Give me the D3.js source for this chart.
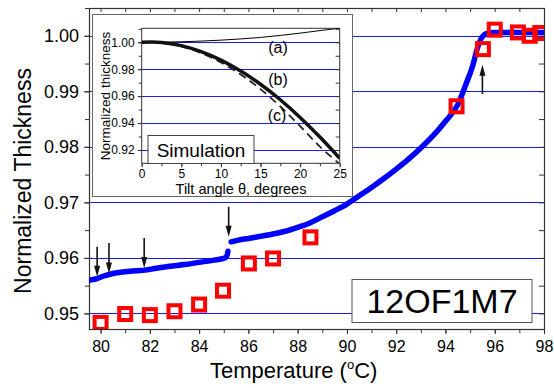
<!DOCTYPE html>
<html>
<head>
<meta charset="utf-8">
<script src="https://cdn.jsdelivr.net/npm/d3@7"></script>
<style>
  body { margin: 0; background: #fff; }
  svg text { font-family: "Liberation Sans", Arial, sans-serif; fill: #000; }
</style>
</head>
<body>
<div id="canvas"></div>
<script>
// measured thickness (blue), below and above the jump at ~85.2 C
const curveLow = [
  [79.55, 0.9560], [79.8, 0.9562], [80.1, 0.9567], [80.5, 0.9572], [81.0, 0.9575],
  [81.5, 0.9577], [81.8, 0.9578], [82.2, 0.9581], [82.8, 0.9585], [83.4, 0.9588],
  [84.0, 0.9592], [84.6, 0.9596], [85.0, 0.9599], [85.12, 0.9603], [85.17, 0.9612]
];
const curveHigh = [
  [85.3, 0.9629], [85.6, 0.9632], [86.0, 0.9635], [86.5, 0.9639], [87.0, 0.9643],
  [87.5, 0.9648], [88.0, 0.9655], [88.5, 0.9663], [89.0, 0.9674], [89.5, 0.9685],
  [90.0, 0.9697], [90.5, 0.9712], [91.0, 0.9727], [91.5, 0.9743], [92.0, 0.9760],
  [92.5, 0.9778], [93.0, 0.9798], [93.5, 0.9820], [94.0, 0.9846], [94.5, 0.9876],
  [94.85, 0.9915], [95.1, 0.9945], [95.3, 0.9978], [95.45, 0.9995], [95.66, 1.0004],
  [96.0, 1.0006], [97.0, 1.0006], [98.0, 1.0006]
];
// red squares
const squareT = [80.0, 81.0, 82.0, 83.0, 84.0, 84.97, 86.02, 87.0, 88.52, 94.45, 95.52, 96.0, 96.94, 97.42, 97.85];
const squareV = [0.9483, 0.9499, 0.9497, 0.9504, 0.9516, 0.9541, 0.9590, 0.9599, 0.9637, 0.9873, 0.9976, 1.0011, 1.0006, 1.0000, 1.0005];
// arrows: [temperature, from, to]
const arrows = [
  [79.86, 0.9620, 0.9566],
  [80.34, 0.9627, 0.9572],
  [81.77, 0.9636, 0.9582],
  [85.2, 0.9692, 0.9638],
  [95.5, 0.9895, 0.9948]
];
const xTicks = [80, 82, 84, 86, 88, 90, 92, 94, 96, 98];
const yTicks = [0.95, 0.96, 0.97, 0.98, 0.99, 1.00];

// inset simulation
const theta = [0, 2.5, 5, 7.5, 10, 12.5, 15, 17.5, 20, 22.5, 25];
const simA = [1.0000, 1.0001, 1.0004, 1.0009, 1.0016, 1.0025, 1.0036, 1.0051, 1.0068, 1.0087, 1.0104];
const simB = [1.0000, 0.9999, 0.9975, 0.9930, 0.9868, 0.9786, 0.9688, 0.9573, 0.9442, 0.9296, 0.9138];
const simC = [1.0000, 0.9998, 0.9970, 0.9920, 0.9850, 0.9760, 0.9652, 0.9523, 0.9377, 0.9225, 0.9095];
const insetXTicks = [0, 5, 10, 15, 20, 25];
const insetYTicks = [0.92, 0.94, 0.96, 0.98, 1.00];

const W = 554, H = 388;
const axisColor = "#333";
const svg = d3.select("#canvas").append("svg").attr("width", W).attr("height", H);

const plot = { left: 89, right: 544, top: 8, bottom: 329 };
const x = d3.scaleLinear().domain([79.53, 98]).range([plot.left, plot.right]);
const y = d3.scaleLinear().domain([0.9472, 1.0050]).range([plot.bottom, plot.top]);

svg.append("defs").append("clipPath").attr("id", "mainClip")
  .append("rect").attr("x", plot.left).attr("y", plot.top)
  .attr("width", plot.right - plot.left).attr("height", plot.bottom - plot.top);

// gridlines
svg.append("g").selectAll("line").data(yTicks).enter().append("line")
  .attr("x1", plot.left).attr("x2", plot.right)
  .attr("y1", d => Math.round(y(d)) + 0.5).attr("y2", d => Math.round(y(d)) + 0.5)
  .attr("stroke", "#1a1aff").attr("stroke-width", 1);

function styleAxis(g) {
  g.select(".domain").remove();
  g.selectAll("line").attr("stroke", axisColor);
}

// main axes
const minorX = d3.range(80, 98.01, 1);
const minorY = d3.range(0.95, 1.0051, 0.005);
svg.append("g").attr("transform", `translate(0,${plot.bottom})`)
  .call(d3.axisBottom(x).tickValues(minorX).tickSize(4).tickFormat(""))
  .call(styleAxis);
svg.append("g").attr("transform", `translate(0,${plot.bottom})`)
  .call(d3.axisBottom(x).tickValues(xTicks).tickSize(5).tickPadding(7).tickFormat(d3.format("d")))
  .call(styleAxis)
  .selectAll("text").attr("font-size", 16);
svg.append("g").attr("transform", `translate(0,${plot.top})`)
  .call(d3.axisBottom(x).tickValues(minorX).tickSize(4).tickFormat(""))
  .call(styleAxis);
svg.append("g").attr("transform", `translate(${plot.left},0)`)
  .call(d3.axisLeft(y).tickValues(minorY).tickSize(4).tickFormat(""))
  .call(styleAxis);
svg.append("g").attr("transform", `translate(${plot.left},0)`)
  .call(d3.axisLeft(y).tickValues(yTicks).tickSize(5).tickPadding(5).tickFormat(d3.format(".2f")))
  .call(styleAxis)
  .selectAll("text").attr("font-size", 18);
svg.append("g").attr("transform", `translate(${plot.right},0)`)
  .call(d3.axisLeft(y).tickValues(minorY).tickSize(5).tickFormat(""))
  .call(styleAxis);
svg.append("rect")
  .attr("x", plot.left + 0.5).attr("y", plot.top + 0.5)
  .attr("width", plot.right - plot.left).attr("height", plot.bottom - plot.top)
  .attr("fill", "none").attr("stroke", axisColor).attr("stroke-width", 1.2);

// axis titles
svg.append("text")
  .attr("transform", "translate(31,181) rotate(-90)")
  .attr("text-anchor", "middle").attr("font-size", 23)
  .text("Normalized Thickness");
const xt = svg.append("text").attr("x", 210).attr("y", 378).attr("font-size", 22);
xt.append("tspan").text("Temperature (");
xt.append("tspan").attr("font-size", 13).attr("dy", -9).text("o");
xt.append("tspan").attr("dy", 9).text("C)");

// ---------- inset ----------
svg.append("rect").attr("x", 92.5).attr("y", 14.5).attr("width", 260).attr("height", 182)
  .attr("fill", "#fff").attr("stroke", "#666").attr("stroke-width", 1);

const ip = { left: 141.7, right: 339.7, top: 28.3, bottom: 163.3 };
const ix = d3.scaleLinear().domain([0, 25]).range([ip.left, ip.right]);
const iy = d3.scaleLinear().domain([0.9101, 1.0104]).range([ip.bottom, ip.top]);

svg.select("defs").append("clipPath").attr("id", "insetClip")
  .append("rect").attr("x", ip.left).attr("y", ip.top)
  .attr("width", ip.right - ip.left).attr("height", ip.bottom - ip.top);

svg.append("g").selectAll("line").data(insetYTicks).enter().append("line")
  .attr("x1", ip.left).attr("x2", ip.right)
  .attr("y1", d => Math.round(iy(d)) + 0.5).attr("y2", d => Math.round(iy(d)) + 0.5)
  .attr("stroke", "#1a1aff").attr("stroke-width", 1);

const iMinorX = d3.range(0, 25.01, 2.5);
const iMinorY = d3.range(0.92, 1.0101, 0.01);
svg.append("g").attr("transform", `translate(0,${ip.bottom})`)
  .call(d3.axisBottom(ix).tickValues(iMinorX).tickSize(3).tickFormat(""))
  .call(styleAxis);
svg.append("g").attr("transform", `translate(0,${ip.bottom})`)
  .call(d3.axisBottom(ix).tickValues(insetXTicks).tickSize(4).tickPadding(2).tickFormat(d3.format("d")))
  .call(styleAxis)
  .selectAll("text").attr("font-size", 12);
svg.append("g").attr("transform", `translate(${ip.left},0)`)
  .call(d3.axisLeft(iy).tickValues(iMinorY).tickSize(3).tickFormat(""))
  .call(styleAxis);
svg.append("g").attr("transform", `translate(${ip.left},0)`)
  .call(d3.axisLeft(iy).tickValues(insetYTicks).tickSize(4).tickPadding(3).tickFormat(d3.format(".2f")))
  .call(styleAxis)
  .selectAll("text").attr("font-size", 12);
svg.append("g").attr("transform", `translate(${ip.right},0)`)
  .call(d3.axisLeft(iy).tickValues(iMinorY).tickSize(4).tickFormat(""))
  .call(styleAxis);
svg.append("rect")
  .attr("x", ip.left).attr("y", ip.top)
  .attr("width", ip.right - ip.left).attr("height", ip.bottom - ip.top)
  .attr("fill", "none").attr("stroke", axisColor).attr("stroke-width", 1);

const simLine = vals => d3.line()
  .x((d, i) => ix(theta[i])).y(d => iy(d))
  .curve(d3.curveCatmullRom)(vals);
const inset = svg.append("g").attr("clip-path", "url(#insetClip)");
inset.append("path").attr("d", simLine(simA))
  .attr("fill", "none").attr("stroke", "#000").attr("stroke-width", 1);
inset.append("path").attr("d", simLine(simC))
  .attr("fill", "none").attr("stroke", "#222").attr("stroke-width", 1.8)
  .attr("stroke-dasharray", "8,5");
inset.append("path").attr("d", simLine(simB))
  .attr("fill", "none").attr("stroke", "#111").attr("stroke-width", 3.5);

svg.append("text").attr("x", 278).attr("y", 53).attr("text-anchor", "middle").attr("font-size", 16).text("(a)");
svg.append("text").attr("x", 278).attr("y", 85).attr("text-anchor", "middle").attr("font-size", 16).text("(b)");
svg.append("text").attr("x", 277).attr("y", 121).attr("text-anchor", "middle").attr("font-size", 16).text("(c)");

svg.append("rect").attr("x", 148).attr("y", 135.5).attr("width", 106).attr("height", 28)
  .attr("fill", "#fff").attr("stroke", "#444").attr("stroke-width", 1);
svg.append("text").attr("x", 201).attr("y", 157).attr("text-anchor", "middle").attr("font-size", 19).text("Simulation");

svg.append("text")
  .attr("transform", "translate(110,96) rotate(-90)")
  .attr("text-anchor", "middle").attr("font-size", 13.5)
  .text("Normalized thickness");
svg.append("text").attr("x", 241).attr("y", 194).attr("text-anchor", "middle").attr("font-size", 14.5)
  .text("Tilt angle \u03b8, degrees");

// ---------- data ----------
const data = svg.append("g").attr("clip-path", "url(#mainClip)");
const mainLine = d3.line().x(d => x(d[0])).y(d => y(d[1])).curve(d3.curveMonotoneX);
[curveLow, curveHigh].forEach(seg => {
  data.append("path").attr("d", mainLine(seg))
    .attr("fill", "none").attr("stroke", "#0000ff").attr("stroke-width", 5.5)
    .attr("stroke-linecap", "round");
});

data.selectAll("rect.sq").data(squareT).enter().append("rect").attr("class", "sq")
  .attr("x", d => x(d) - 6).attr("y", (d, i) => y(squareV[i]) - 6)
  .attr("width", 12).attr("height", 12)
  .attr("fill", "none").attr("stroke", "#ff0000").attr("stroke-width", 4);

// arrows
const ag = svg.append("g");
arrows.forEach(a => {
  const ax = x(a[0]), y0 = y(a[1]), y1 = y(a[2]);
  const dir = y1 > y0 ? 1 : -1;
  ag.append("line").attr("x1", ax).attr("x2", ax).attr("y1", y0).attr("y2", y1 - dir * 8)
    .attr("stroke", "#111").attr("stroke-width", 1.6);
  ag.append("path")
    .attr("d", `M${ax - 3},${y1 - dir * 11} L${ax},${y1} L${ax + 3},${y1 - dir * 11} Z`)
    .attr("fill", "#111");
});

// sample label
svg.append("rect").attr("x", 352).attr("y", 279.5).attr("width", 180).attr("height", 43)
  .attr("fill", "#fff").attr("stroke", "#555").attr("stroke-width", 1);
svg.append("text").attr("x", 442).attr("y", 313).attr("text-anchor", "middle").attr("font-size", 34)
  .text("12OF1M7");
</script>
</body>
</html>
